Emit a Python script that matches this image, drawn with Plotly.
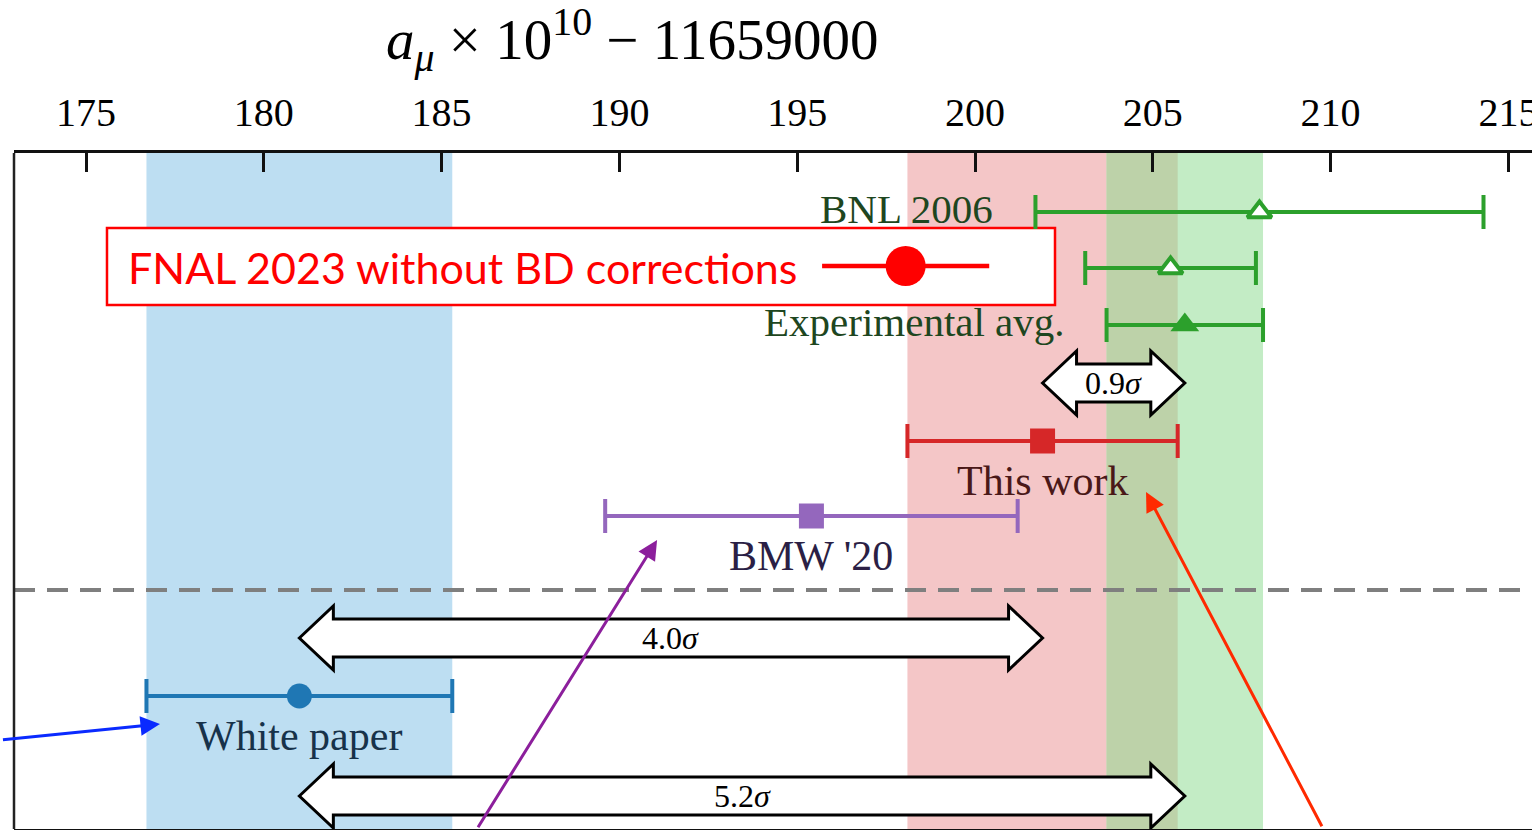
import plotly.graph_objects as go

# ---------------- data ----------------
names = ["BNL 2006", "FNAL 2023", "Experimental avg.", "This work", "BMW '20", "White paper"]
centers = [208.0, 205.5, 205.9, 201.9, 195.4, 181.0]
errors = [6.3, 2.4, 2.2, 3.8, 5.8, 4.3]
row_y = [212, 268, 325, 441, 516, 696]          # vertical slot of each row (screen-like units)
colors = ["#2ca02c", "#2ca02c", "#2ca02c", "#d62728", "#9467bd", "#1f77b4"]
symbols = ["triangle-up-open", "triangle-up-open", "triangle-up", "square", "square", "circle"]

fnal_nobd_center = 198.05
fnal_nobd_err = 2.35

tension_labels = ["0.9<i>σ</i>", "4.0<i>σ</i>", "5.2<i>σ</i>"]
tension_pairs = [(3, 2), (5, 3), (5, 2)]      # (from row, to row)
tension_y = [383, 638, 796]

tick_vals = [175, 180, 185, 190, 195, 200, 205, 210, 215]

# ---------------- figure ----------------
fig = go.Figure()
SERIF = "Liberation Serif"

wp_c, wp_e = centers[5], errors[5]
tw_c, tw_e = centers[3], errors[3]
ex_c, ex_e = centers[2], errors[2]
shapes = [
    dict(type="rect", xref="x", yref="paper", x0=wp_c - wp_e, x1=wp_c + wp_e, y0=0, y1=1,
         fillcolor="#bddef2", line_width=0, layer="below"),
    dict(type="rect", xref="x", yref="paper", x0=tw_c - tw_e, x1=tw_c + tw_e, y0=0, y1=1,
         fillcolor="#f4c6c7", line_width=0, layer="below"),
    dict(type="rect", xref="x", yref="paper", x0=ex_c - ex_e, x1=ex_c + ex_e, y0=0, y1=1,
         fillcolor="#c3ecc5", line_width=0, layer="below"),
    dict(type="rect", xref="x", yref="paper", x0=max(tw_c - tw_e, ex_c - ex_e),
         x1=min(tw_c + tw_e, ex_c + ex_e), y0=0, y1=1,
         fillcolor="#bdd2a9", line_width=0, layer="below"),
    dict(type="line", xref="paper", yref="y", x0=0, x1=1, y0=590, y1=590,
         line=dict(color="#7f7f7f", width=4, dash="21px,12px"), layer="below"),
    dict(type="rect", xref="x", yref="y", x0=175.59, x1=202.25, y0=228, y1=305,
         fillcolor="white", line=dict(color="#ff0000", width=2.5), layer="below"),
    dict(type="line", xref="paper", yref="paper", x0=0, x1=0, y0=0, y1=1,
         line=dict(color="#222222", width=2.5)),
]

head_len = 0.956
body_h = 19
head_h = 32
for lab, (a, b), yy in zip(tension_labels, tension_pairs, tension_y):
    x1, x2 = centers[a], centers[b]
    path = (f"M{x1},{yy} L{x1+head_len},{yy-head_h} L{x1+head_len},{yy-body_h} "
            f"L{x2-head_len},{yy-body_h} L{x2-head_len},{yy-head_h} L{x2},{yy} "
            f"L{x2-head_len},{yy+head_h} L{x2-head_len},{yy+body_h} "
            f"L{x1+head_len},{yy+body_h} L{x1+head_len},{yy+head_h} Z")
    shapes.append(dict(type="path", xref="x", yref="y", path=path, fillcolor="white",
                       line=dict(color="black", width=3), layer="above"))

for n, c, e, y, col, sym in zip(names, centers, errors, row_y, colors, symbols):
    if sym.endswith("open"):
        marker = dict(symbol="triangle-up", size=21, color="white", line=dict(color=col, width=4))
    elif sym == "triangle-up":
        marker = dict(symbol="triangle-up", size=25, color=col, line=dict(width=0))
    else:
        marker = dict(symbol=sym, size=25, color=col, line=dict(width=0))
    fig.add_trace(go.Scatter(
        x=[c], y=[y], mode="markers", marker=marker, name=n, showlegend=False,
        error_x=dict(type="data", array=[e], color=col, thickness=4, width=17),
    ))

fig.add_trace(go.Scatter(
    x=[fnal_nobd_center], y=[row_y[1] - 2], mode="markers",
    marker=dict(symbol="circle", size=40, color="#ff0000", line=dict(width=0)),
    error_x=dict(type="data", array=[fnal_nobd_err], color="#ff0000", thickness=4.5, width=0),
    showlegend=False,
))

annotations = []
for i in (0, 2):
    annotations.append(dict(x=centers[i] - errors[i], y=row_y[i] - 3, xref="x", yref="y",
                            text=names[i], showarrow=False, xanchor="right", xshift=-40,
                            font=dict(family=SERIF, size=41, color="#1e4620")))
below_cols = {3: "#4a1818", 4: "#2b1f45", 5: "#17324a"}
for i, col in below_cols.items():
    annotations.append(dict(x=centers[i], y=row_y[i] + 40, xref="x", yref="y",
                            text=names[i], showarrow=False, xanchor="center",
                            font=dict(family=SERIF, size=42, color=col)))

for lab, (a, b), yy in zip(tension_labels, tension_pairs, tension_y):
    annotations.append(dict(x=(centers[a] + centers[b]) / 2, y=yy, xref="x", yref="y",
                            text=lab, showarrow=False,
                            font=dict(family=SERIF, size=32, color="black")))

annotations.append(dict(x=176.12, y=267, xref="x", yref="y", text="FNAL 2023 without BD corrections",
                        showarrow=False, xanchor="left",
                        font=dict(family="Lato", size=43, color="#ff0000")))

for (tx, ty, axx, ayy, col) in [(177.08, 724, 172.58, 740, "#0a2aff"),
                                (191.06, 540, 185.94, 832, "#8c1f9c"),
                                (204.81, 492, 209.84, 832, "#ff2a00")]:
    annotations.append(dict(x=tx, y=ty, xref="x", yref="y", ax=axx, ay=ayy, axref="x", ayref="y",
                            showarrow=True, arrowhead=2, arrowsize=1.3, arrowwidth=3,
                            arrowcolor=col, text=" "))

annotations.append(dict(xref="paper", yref="paper", x=(632 - 14) / 1518, y=1 + (153 - 40) / 676,
                        text="<i>a</i><sub><i>μ</i></sub> × 10<sup>10</sup> − 11659000",
                        showarrow=False, xanchor="center", yanchor="middle",
                        font=dict(family=SERIF, size=57, color="black")))

fig.update_layout(
    width=1532, height=830,
    margin=dict(l=14, r=0, t=153, b=1, autoexpand=False),
    plot_bgcolor="white", paper_bgcolor="white",
    shapes=shapes, annotations=annotations,
    showlegend=False,
    xaxis=dict(range=[172.975, 215.664], side="top", tickvals=tick_vals,
               ticktext=[str(t) for t in tick_vals], automargin=False,
               ticks="inside", ticklen=19, tickwidth=2.5, tickcolor="#111111",
               showline=True, linewidth=2.5, linecolor="#111111", mirror=True,
               showgrid=False, zeroline=False, ticklabelstandoff=8,
               ticklabeloverflow="allow",
               tickfont=dict(family=SERIF, size=40, color="black")),
    yaxis=dict(range=[829, 153], showgrid=False, zeroline=False, showticklabels=False,
               ticks="", showline=False, automargin=False),
)

fig.write_html("out.html")
